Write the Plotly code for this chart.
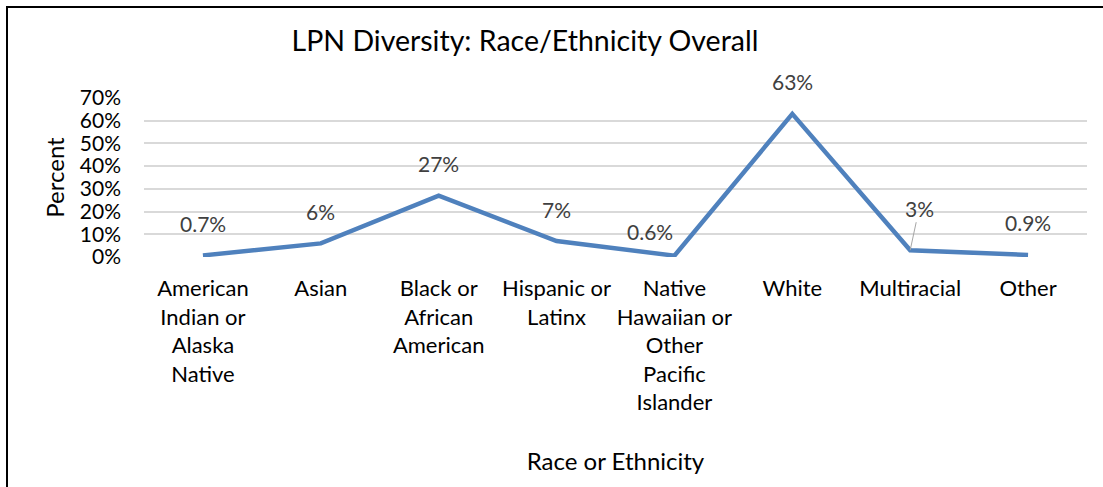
import plotly.graph_objects as go

categories = ["American<br>Indian or<br>Alaska<br>Native", "Asian", "Black or<br>African<br>American",
              "Hispanic or<br>Latinx", "Native<br>Hawaiian or<br>Other<br>Pacific<br>Islander",
              "White", "Multiracial", "Other"]
values = [0.7, 6, 27, 7, 0.6, 63, 3, 0.9]
labels = ["0.7%", "6%", "27%", "7%", "0.6%", "63%", "3%", "0.9%"]
ytick_vals = [0, 10, 20, 30, 40, 50, 60, 70]
ytick_text = ["0%", "10%", "20%", "30%", "40%", "50%", "60%", "70%"]

FONT = "Lato"
x_idx = list(range(len(categories)))

fig = go.Figure()
fig.add_trace(go.Scatter(x=x_idx, y=values, mode="lines",
                         line=dict(color="#4F81BD", width=4.5), hoverinfo="skip"))

# data labels
label_offsets = {4: (-24, -24)}
annotations = []
for i, (v, t) in enumerate(zip(values, labels)):
    if i == 6:
        annotations.append(dict(x=i, y=v, xref="x", yref="y", text=t, showarrow=True,
                                arrowhead=0, arrowwidth=1, arrowcolor="#A6A6A6",
                                ax=9, ay=-42, standoff=0,
                                font=dict(family=FONT, size=21, color="#404040")))
        continue
    dx, dy = label_offsets.get(i, (0, -32))
    annotations.append(dict(x=i, y=v, xref="x", yref="y", text=t, showarrow=False,
                            xshift=dx, yshift=-dy, xanchor="center", yanchor="middle",
                            font=dict(family=FONT, size=21, color="#404040")))

fig.update_layout(
    width=1103, height=487,
    margin=dict(l=144, r=16, t=98, b=230),
    paper_bgcolor="white", plot_bgcolor="white",
    showlegend=False,
    title=dict(text="LPN Diversity: Race/Ethnicity Overall", x=525/1103, xanchor="center",
               y=1 - 41/487, yanchor="middle",
               font=dict(family=FONT, size=28.5, color="black")),
    xaxis=dict(range=[-0.5, len(categories) - 0.5], tickvals=x_idx, ticktext=categories,
               showgrid=False, zeroline=False, showline=False, ticks="",
               tickfont=dict(family=FONT, size=22, color="black"), ticklabelstandoff=16,
               title=dict(text="Race or Ethnicity", font=dict(family=FONT, size=24, color="black"),
                          standoff=38)),
    yaxis=dict(range=[0, 70], tickvals=ytick_vals, ticktext=ytick_text,
               showgrid=True, gridcolor="#D9D9D9", gridwidth=2, zeroline=False, showline=False,
               ticks="", ticklabelstandoff=22,
               tickfont=dict(family=FONT, size=21, color="black"),
               title=dict(text="Percent", font=dict(family=FONT, size=24, color="black"), standoff=8)),
    annotations=annotations,
    shapes=[dict(type="path", xref="paper", yref="paper",
                 path="M {0},{1} L {0},{2} L {3},{2}".format((7 - 144) / 943, -240 / 159,
                                                           (257 - 7) / 159, (1110 - 144) / 943),
                 line=dict(color="black", width=2))],
)

fig.write_html("out.html", config={"displayModeBar": False, "staticPlot": True},
               post_script="document.body.style.margin='0';document.body.style.overflow='hidden';")
